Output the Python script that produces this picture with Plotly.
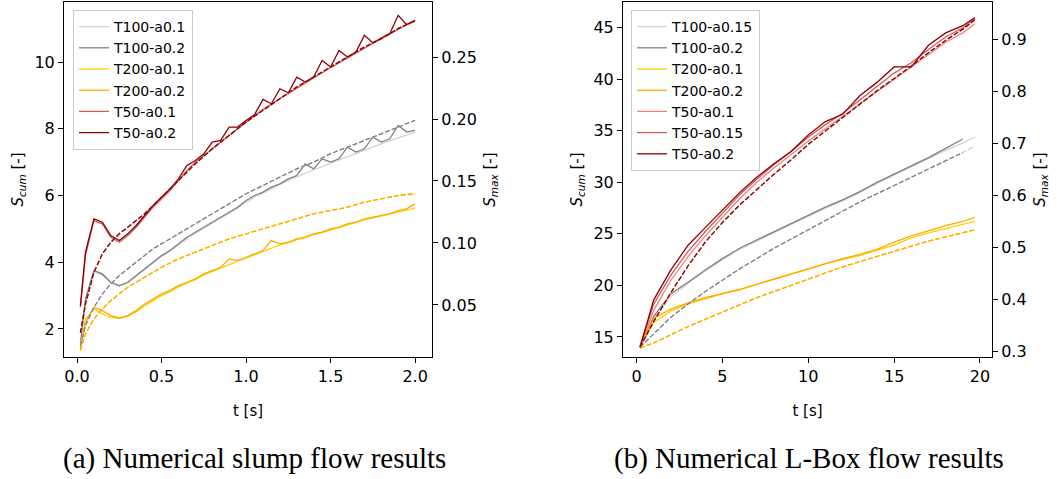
import plotly.graph_objects as go

# ---------------- (a) slump flow ----------------
t_a = [0.02, 0.05, 0.10, 0.15, 0.20, 0.25, 0.30, 0.35, 0.40, 0.45, 0.50, 0.55, 0.60, 0.65,
       0.70, 0.75, 0.80, 0.85, 0.90, 0.95, 1.00, 1.05, 1.10, 1.15, 1.20, 1.25, 1.30, 1.35,
       1.40, 1.45, 1.50, 1.55, 1.60, 1.65, 1.70, 1.75, 1.80, 1.85, 1.90, 1.95, 2.00]

a_T100_a01 = [1.50, 2.80, 3.70, 3.62, 3.38, 3.28, 3.38, 3.58, 3.78, 3.98, 4.17, 4.33, 4.52, 4.70,
              4.86, 5.02, 5.17, 5.32, 5.47, 5.62, 5.80, 5.95, 6.07, 6.20, 6.32, 6.45, 6.56, 6.67,
              6.77, 6.87, 6.97, 7.07, 7.17, 7.27, 7.36, 7.46, 7.55, 7.64, 7.73, 7.82, 7.90]
a_T100_a02 = [1.55, 2.90, 3.75, 3.65, 3.40, 3.30, 3.40, 3.60, 3.80, 4.00, 4.20, 4.35, 4.55, 4.75,
              4.90, 5.05, 5.20, 5.35, 5.50, 5.65, 5.85, 6.00, 6.10, 6.25, 6.35, 6.50, 6.60, 6.95,
              6.80, 7.10, 7.00, 7.10, 7.45, 7.30, 7.40, 7.75, 7.60, 7.70, 8.10, 7.90, 7.95]
a_T200_a01 = [1.38, 2.30, 2.60, 2.45, 2.35, 2.32, 2.38, 2.52, 2.70, 2.86, 3.00, 3.12, 3.26, 3.37,
              3.48, 3.62, 3.73, 3.83, 3.93, 4.03, 4.12, 4.22, 4.32, 4.42, 4.52, 4.58, 4.68, 4.74,
              4.83, 4.89, 4.97, 5.04, 5.12, 5.19, 5.27, 5.33, 5.39, 5.45, 5.52, 5.58, 5.62]
a_T200_a02 = [1.40, 2.20, 2.65, 2.55, 2.40, 2.33, 2.40, 2.55, 2.75, 2.90, 3.05, 3.15, 3.30, 3.40,
              3.50, 3.65, 3.75, 3.85, 4.10, 4.05, 4.15, 4.25, 4.35, 4.65, 4.55, 4.60, 4.70, 4.75,
              4.85, 4.90, 5.00, 5.05, 5.15, 5.20, 5.30, 5.35, 5.40, 5.45, 5.55, 5.60, 5.75]
a_T50_a01 = [2.65, 4.20, 5.25, 5.15, 4.75, 4.60, 4.80, 5.05, 5.35, 5.65, 5.90, 6.15, 6.45, 6.75,
             7.00, 7.20, 7.42, 7.62, 7.82, 8.02, 8.22, 8.40, 8.58, 8.73, 8.90, 9.06, 9.22, 9.38,
             9.53, 9.68, 9.83, 9.98, 10.13, 10.28, 10.42, 10.56, 10.70, 10.84, 10.98, 11.12, 11.22]
a_T50_a02 = [2.70, 4.30, 5.30, 5.20, 4.80, 4.65, 4.85, 5.10, 5.40, 5.70, 5.95, 6.20, 6.50, 6.90,
             7.05, 7.25, 7.60, 7.65, 8.05, 8.05, 8.25, 8.42, 8.88, 8.75, 9.20, 9.08, 9.55, 9.40,
             9.55, 10.05, 9.85, 10.35, 10.15, 10.30, 10.80, 10.58, 10.72, 10.85, 11.40, 11.12, 11.25]

# S_max (right axis), dashed
t_a_max = [0.02, 0.05, 0.10, 0.15, 0.20, 0.25, 0.30, 0.35, 0.40, 0.45, 0.50, 0.60, 0.70,
           0.80, 0.90, 1.00, 1.10, 1.20, 1.30, 1.40, 1.50, 1.60, 1.70, 1.80, 1.90, 2.00]
a_max_T100 = [0.0172, 0.0333, 0.0481, 0.0589, 0.0670, 0.0737, 0.0791, 0.0845, 0.0899, 0.0953,
              0.0993, 0.1074, 0.1154, 0.1235, 0.1316, 0.1397, 0.1464, 0.1531, 0.1598, 0.1652,
              0.1720, 0.1773, 0.1827, 0.1881, 0.1935, 0.1989]
a_max_T200 = [0.0132, 0.0266, 0.0387, 0.0468, 0.0535, 0.0589, 0.0643, 0.0683, 0.0724, 0.0764,
              0.0804, 0.0872, 0.0926, 0.0979, 0.1033, 0.1074, 0.1114, 0.1154, 0.1195, 0.1235,
              0.1262, 0.1289, 0.1329, 0.1356, 0.1383, 0.1397]
a_max_T50 = [0.0274, 0.0508, 0.0764, 0.0912, 0.1006, 0.1074, 0.1127, 0.1181, 0.1235, 0.1302,
             0.1370, 0.1504, 0.1639, 0.1760, 0.1868, 0.1975, 0.2070, 0.2163, 0.2258, 0.2339,
             0.2419, 0.2500, 0.2581, 0.2648, 0.2729, 0.2796]

# ---------------- (b) L-box ----------------
t_b = [0.2, 1, 2, 3, 4, 5, 6, 7, 8, 9, 10, 11, 12, 13, 14, 15, 16, 17, 18, 19, 19.7]
b_T100_a015 = [13.9, 16.8, 18.9, 20.2, 21.4, 22.5, 23.5, 24.3, 25.1, 25.9, 26.7, 27.5, 28.2,
               29.0, 29.9, 30.7, 31.5, 32.3, 33.1, 33.8, 34.4]
b_T100_a02 = [14.0, 17.0, 19.2, 20.3, 21.5, 22.6, 23.6, 24.4, 25.2, 26.0, 26.8, 27.6, 28.3,
              29.1, 30.0, 30.8, 31.6, 32.4, 33.3, 34.2]
b_T200_a01 = [14.0, 16.4, 17.5, 18.2, 18.7, 19.2, 19.6, 20.1, 20.6, 21.1, 21.6, 22.1, 22.5,
              22.9, 23.4, 23.9, 24.6, 25.1, 25.5, 25.9, 26.2]
b_T200_a02 = [14.0, 16.8, 17.7, 18.3, 18.8, 19.2, 19.6, 20.1, 20.6, 21.1, 21.6, 22.1, 22.6,
              23.0, 23.5, 24.2, 24.8, 25.3, 25.8, 26.2, 26.6]
b_T50_a01 = [14.0, 17.6, 20.5, 22.8, 24.8, 26.6, 28.4, 30.0, 31.4, 32.7, 34.0, 35.2, 36.4,
             37.6, 38.8, 40.0, 41.2, 42.4, 43.6, 44.5, 45.4]
b_T50_a015 = [14.1, 18.2, 21.0, 23.3, 25.2, 27.0, 28.8, 30.3, 31.7, 33.0, 34.4, 35.6, 36.7,
              38.0, 39.3, 40.6, 41.6, 42.9, 44.1, 45.0, 45.9]
b_T50_a02 = [14.0, 18.6, 21.5, 23.9, 25.6, 27.3, 29.0, 30.5, 31.8, 33.0, 34.6, 35.9, 36.6,
             38.4, 39.7, 41.2, 41.2, 43.3, 44.5, 45.2, 46.0]

b_max_T100 = [0.3090, 0.3347, 0.3663, 0.3919, 0.4156, 0.4373, 0.4591, 0.4788, 0.4985, 0.5163,
              0.5341, 0.5518, 0.5696, 0.5874, 0.6031, 0.6190, 0.6348, 0.6505, 0.6663, 0.6821,
              0.6940]
b_max_T200 = [0.3070, 0.3169, 0.3327, 0.3485, 0.3623, 0.3761, 0.3900, 0.4038, 0.4156, 0.4275,
              0.4393, 0.4512, 0.4630, 0.4729, 0.4827, 0.4926, 0.5025, 0.5124, 0.5203, 0.5282,
              0.5341]
b_max_T50 = [0.3090, 0.3584, 0.4136, 0.4650, 0.5104, 0.5479, 0.5815, 0.6111, 0.6407, 0.6683,
             0.6979, 0.7236, 0.7493, 0.7749, 0.8006, 0.8243, 0.8480, 0.8736, 0.8973, 0.9190,
             0.9368]

C_LGRAY = "#d3d3d3"
C_GRAY = "#808080"
C_GOLD = "#ffd000"
C_ORANGE = "#ffaa00"
C_LCORAL = "#f08080"
C_INDRED = "#cd5c5c"
C_DRED = "#8b0000"

FONT = "DejaVu Sans"
LW = 1.3

fig = go.Figure()

def solid(x, y, name, color, xa, ya, legend):
    fig.add_trace(go.Scatter(x=x, y=y, name=name, mode="lines",
                             line=dict(color=color, width=LW),
                             xaxis=xa, yaxis=ya, legend=legend))

def dashed(x, y, color, xa, ya):
    fig.add_trace(go.Scatter(x=x, y=y, mode="lines", showlegend=False,
                             line=dict(color=color, width=LW, dash="5px,2px"),
                             xaxis=xa, yaxis=ya))

# panel (a)
dashed(t_a_max, a_max_T100, C_LGRAY, "x", "y2")
dashed(t_a_max, a_max_T100, C_GRAY, "x", "y2")
dashed(t_a_max, a_max_T200, C_GOLD, "x", "y2")
dashed(t_a_max, a_max_T200, C_ORANGE, "x", "y2")
dashed(t_a_max, a_max_T50, C_INDRED, "x", "y2")
dashed(t_a_max, a_max_T50, C_DRED, "x", "y2")
solid(t_a, a_T100_a01, "T100-a0.1", C_LGRAY, "x", "y", "legend")
solid(t_a, a_T100_a02, "T100-a0.2", C_GRAY, "x", "y", "legend")
solid(t_a, a_T200_a01, "T200-a0.1", C_GOLD, "x", "y", "legend")
solid(t_a, a_T200_a02, "T200-a0.2", C_ORANGE, "x", "y", "legend")
solid(t_a, a_T50_a01, "T50-a0.1", C_INDRED, "x", "y", "legend")
solid(t_a, a_T50_a02, "T50-a0.2", C_DRED, "x", "y", "legend")

# panel (b)
dashed(t_b, b_max_T100, C_LGRAY, "x2", "y4")
dashed(t_b[:20], b_max_T100[:20], C_GRAY, "x2", "y4")
dashed(t_b, b_max_T200, C_GOLD, "x2", "y4")
dashed(t_b, b_max_T200, C_ORANGE, "x2", "y4")
dashed(t_b, b_max_T50, C_LCORAL, "x2", "y4")
dashed(t_b, b_max_T50, C_DRED, "x2", "y4")
solid(t_b, b_T100_a015, "T100-a0.15", C_LGRAY, "x2", "y3", "legend2")
solid(t_b[:20], b_T100_a02, "T100-a0.2", C_GRAY, "x2", "y3", "legend2")
solid(t_b, b_T200_a01, "T200-a0.1", C_GOLD, "x2", "y3", "legend2")
solid(t_b, b_T200_a02, "T200-a0.2", C_ORANGE, "x2", "y3", "legend2")
solid(t_b, b_T50_a01, "T50-a0.1", C_LCORAL, "x2", "y3", "legend2")
solid(t_b, b_T50_a015, "T50-a0.15", C_INDRED, "x2", "y3", "legend2")
solid(t_b, b_T50_a02, "T50-a0.2", C_DRED, "x2", "y3", "legend2")

W, H = 1057, 479
def fx(px):
    return px / W
def fy(py):
    return 1 - py / H

tickfont = dict(family=FONT, size=16, color="black")
titlefont = dict(family=FONT, size=15, color="black")
axcommon = dict(showgrid=False, zeroline=False, showline=True, linecolor="black", linewidth=1,
                ticks="outside", ticklen=5, tickwidth=1, tickcolor="black", tickfont=tickfont,
                automargin=False)

legcommon = dict(xanchor="left", yanchor="top",
                 bgcolor="rgba(255,255,255,0.8)", bordercolor="#cccccc", borderwidth=1,
                 font=dict(family=FONT, size=14, color="black"), itemwidth=30,
                 tracegroupgap=0)

fig.update_layout(
    width=W, height=H, margin=dict(l=0, r=0, t=0, b=0),
    plot_bgcolor="white", paper_bgcolor="white",
    xaxis=dict(domain=[fx(64), fx(432)], anchor="y", range=[-0.077, 2.1], dtick=0.5,
               tickformat=".1f", mirror=True,
               title=dict(text="t [s]", font=titlefont, standoff=20), **axcommon),
    yaxis=dict(domain=[fy(357), fy(2)], anchor="x", range=[1.16, 11.8], dtick=2,
               title=dict(text="<i>S</i><sub><i>cum</i></sub> [-]", font=titlefont, standoff=7),
               **axcommon),
    yaxis2=dict(overlaying="y", anchor="x", side="right", range=[0.008, 0.2944], dtick=0.05,
                tick0=0, tickformat=".2f",
                title=dict(text="<i>S</i><sub><i>max</i></sub> [-]", font=titlefont, standoff=8),
                **axcommon),
    xaxis2=dict(domain=[fx(623), fx(992)], anchor="y3", range=[-0.79, 20.7], dtick=5,
                mirror=True,
                title=dict(text="t [s]", font=titlefont, standoff=20), **axcommon),
    yaxis3=dict(domain=[fy(357), fy(2)], anchor="x2", range=[13.05, 47.5], dtick=5,
                title=dict(text="<i>S</i><sub><i>cum</i></sub> [-]", font=titlefont, standoff=7),
                **axcommon),
    yaxis4=dict(overlaying="y3", anchor="x2", side="right", range=[0.29, 0.971], dtick=0.1,
                tick0=0, tickformat=".1f",
                title=dict(text="<i>S</i><sub><i>max</i></sub> [-]", font=titlefont, standoff=8),
                **axcommon),
    legend=dict(x=fx(73), y=fy(10), **legcommon),
    legend2=dict(x=fx(631), y=fy(10), **legcommon),
    annotations=[
        dict(text="(a) Numerical slump flow results", x=fx(254), y=fy(458), xref="paper",
             yref="paper", showarrow=False, xanchor="center", yanchor="middle",
             font=dict(family="Liberation Serif", size=29, color="black")),
        dict(text="(b) Numerical L-Box flow results", x=fx(809), y=fy(458), xref="paper",
             yref="paper", showarrow=False, xanchor="center", yanchor="middle",
             font=dict(family="Liberation Serif", size=29, color="black")),
    ],
)

# remove the browser's default 8 px body margin so the figure fills the window exactly
fig.write_html("out.html", config={"displayModeBar": False},
               post_script="document.body.style.margin='0px';")
